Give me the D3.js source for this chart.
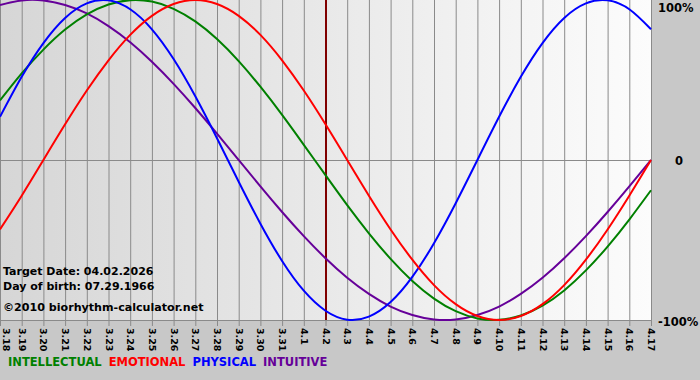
<!DOCTYPE html>
<html><head><meta charset="utf-8">
<script src="https://cdn.jsdelivr.net/npm/d3@7"></script>
<style>
html,body{margin:0;padding:0;background:#c8c8c8;}
svg{display:block;}
text{font-family:"DejaVu Sans",Verdana,sans-serif;font-weight:bold;}
</style></head><body>
<svg id="chart" width="700" height="380"></svg>
<script>
const dates = ["3.18","3.19","3.20","3.21","3.22","3.23","3.24","3.25","3.26","3.27","3.28","3.29","3.30","3.31","4.1","4.2","4.3","4.4","4.5","4.6","4.7","4.8","4.9","4.10","4.11","4.12","4.13","4.14","4.15","4.16","4.17"];
const physical = [27.0,52.0,73.1,88.8,97.9,99.8,94.2,81.7,63.1,39.8,13.6,-13.6,-39.8,-63.1,-81.7,-94.2,-99.8,-97.9,-88.8,-73.1,-52.0,-27.0,0,27.0,52.0,73.1,88.8,97.9,99.8,94.2,81.7];
const emotional = [-43.4,-22.3,0,22.3,43.4,62.3,78.2,90.1,97.5,100,97.5,90.1,78.2,62.3,43.4,22.3,0,-22.3,-43.4,-62.3,-78.2,-90.1,-97.5,-100,-97.5,-90.1,-78.2,-62.3,-43.4,-22.3,0];
const intellectual = [37.2,54.1,69.0,81.5,91.0,97.2,99.9,99.0,94.5,86.6,75.6,61.8,45.8,28.2,9.5,-9.5,-28.2,-45.8,-61.8,-75.6,-86.6,-94.5,-99.0,-99.9,-97.2,-91.0,-81.5,-69.0,-54.1,-37.2,-18.9];
const intuitive = [96.9,99.7,99.7,96.9,91.6,83.7,73.6,61.4,47.6,32.5,16.5,0,-16.5,-32.5,-47.6,-61.4,-73.6,-83.7,-91.6,-96.9,-99.7,-99.7,-96.9,-91.6,-83.7,-73.6,-61.4,-47.6,-32.5,-16.5,0];
const yTicks = [100, 0, -100];
const yTickLabels = ["100%", "0", "-100%"];
const targetDate = "4.2";
const infoLines = ["Target Date: 04.02.2026", "Day of birth: 07.29.1966"];
const copyright = "©2010 biorhythm-calculator.net";
const legend = [
  {name:"INTELLECTUAL", color:"#008000"},
  {name:"EMOTIONAL", color:"#ff0000"},
  {name:"PHYSICAL", color:"#0000ff"},
  {name:"INTUITIVE", color:"#660099"}
];

const svg = d3.select("#chart");
const W = 651, pTop = 0, pBottom = 320;
const x = d3.scalePoint().domain(dates).range([0, W]);
const y = d3.scaleLinear().domain([-100, 100]).range([pBottom, pTop]);

const defs = svg.append("defs");
const g = defs.append("linearGradient").attr("id","plotbg").attr("x1","0").attr("x2","1").attr("y1","0").attr("y2","0");
g.append("stop").attr("offset","0").attr("stop-color","#d6d6d6");
g.append("stop").attr("offset","1").attr("stop-color","#fcfcfc");

svg.append("rect").attr("width",700).attr("height",380).attr("fill","#c8c8c8");
svg.append("rect").attr("x",0).attr("y",pTop).attr("width",W).attr("height",pBottom-pTop+1).attr("fill","url(#plotbg)");

// vertical grid lines
svg.append("g").selectAll("line").data(dates).join("line")
  .attr("x1", d => x(d)+0.5).attr("x2", d => x(d)+0.5)
  .attr("y1", pTop).attr("y2", pBottom+6)
  .attr("stroke", "#8a8a8a").attr("stroke-width", 1);

// horizontal lines
svg.append("g").selectAll("line").data([0, -100]).join("line")
  .attr("x1", 0).attr("x2", W+1)
  .attr("y1", d => y(d)+0.5).attr("y2", d => y(d)+0.5)
  .attr("stroke", "#8a8a8a").attr("stroke-width", 1);

// target date line
svg.append("line")
  .attr("x1", x(targetDate)+0.5).attr("x2", x(targetDate)+0.5)
  .attr("y1", pTop).attr("y2", pBottom)
  .attr("stroke", "#800000").attr("stroke-width", 2);

// curves
const series = [
  {vals: intuitive, color:"#660099"},
  {vals: intellectual, color:"#008000"},
  {vals: physical, color:"#0000ff"},
  {vals: emotional, color:"#ff0000"}
];
const line = d3.line().x((d,i) => x(dates[i])).y(d => y(d)).curve(d3.curveNatural);
svg.append("g").selectAll("path").data(series).join("path")
  .attr("d", d => line(d.vals))
  .attr("fill","none").attr("stroke", d => d.color).attr("stroke-width", 2);

// x axis labels
svg.append("g").selectAll("text").data(dates).join("text")
  .attr("transform", d => `translate(${Math.max(x(d)-3, 3)},${pBottom+8}) rotate(90)`)
  .attr("font-size", 9.5).attr("fill","#000")
  .text(d => d);

// y labels
svg.append("g").selectAll("text").data(yTicks).join("text")
  .attr("x", (d,i) => i===1 ? 675 : 658)
  .attr("y", d => y(d) + (d===100 ? 12 : d===0 ? 5 : 6))
  .attr("font-size", 11.5).attr("fill","#000")
  .text((d,i) => yTickLabels[i]);

// info text
svg.append("g").selectAll("text").data(infoLines).join("text")
  .attr("x", 3).attr("y", (d,i) => 275 + i*15)
  .attr("font-size", 11).attr("fill","#000").text(d => d);
svg.append("text").attr("x", 3).attr("y", 311).attr("font-size", 11.1).attr("fill","#000").text(copyright);

// legend
let lx = 8;
const lg = svg.append("g");
legend.forEach(l => {
  const t = lg.append("text").attr("x", lx).attr("y", 366).attr("font-size", 11.5)
    .attr("fill", l.color).text(l.name);
  lx += t.node().getComputedTextLength() + 7;
});
</script>
</body></html>
